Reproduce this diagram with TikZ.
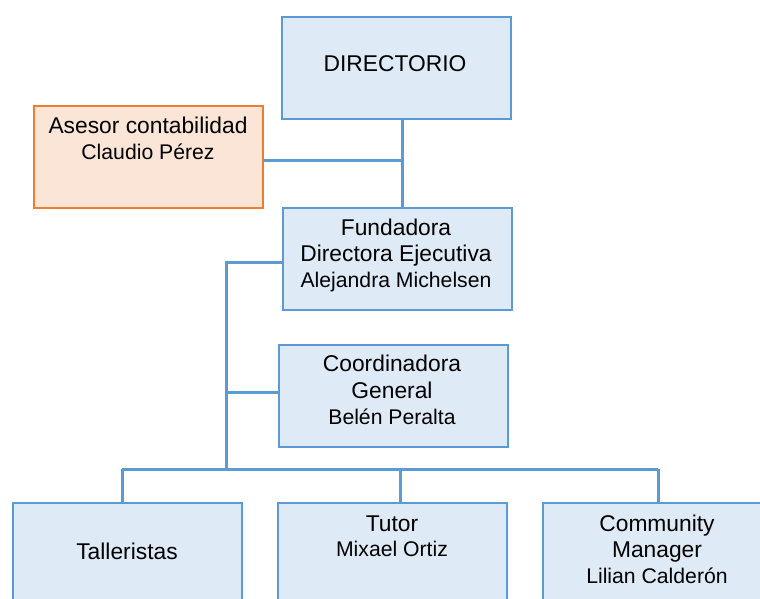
\documentclass[tikz,border=0pt]{standalone}
\usepackage{fontspec}
\setmainfont{Liberation Sans}
\definecolor{boxblue}{HTML}{DEEBF7}
\definecolor{lineblue}{HTML}{5B9BD5}
\definecolor{boxorange}{HTML}{FBE5D6}
\definecolor{lineorange}{HTML}{ED7D31}
\tikzset{
  orgbox/.style={draw=lineblue, fill=boxblue, line width=2.2pt, minimum width=229pt, minimum height=102pt, inner sep=0pt, anchor=north west},
  advbox/.style={draw=lineorange, fill=boxorange, line width=2.2pt, minimum width=229pt, minimum height=102pt, inner sep=0pt, anchor=north west},
  conn/.style={draw=lineblue, line width=3pt},
  ttl/.style={font=\fontsize{22.8}{26}\selectfont, inner sep=0pt, anchor=base},
  nam/.style={font=\fontsize{21.2}{26}\selectfont, inner sep=0pt, anchor=base},
}
\begin{document}
\begin{tikzpicture}[x=1pt,y=-1pt]
\useasboundingbox (0,0) rectangle (760,599);
\clip (0,0) rectangle (760,599);
% boxes
\node[orgbox] (dir) at (281,16) {};
\node[advbox] (ases) at (33,105) {};
\node[orgbox] (fund) at (282,207) {};
\node[orgbox] (coord) at (278,344) {};
\node[orgbox] (tall) at (12,502) {};
\node[orgbox] (tutor) at (277,502) {};
\node[orgbox] (cm) at (542,502) {};
% texts
\node[ttl] (tdir) at (395,72) {DIRECTORIO};
\node[ttl] (tases1) at (148,133) {Asesor contabilidad};
\node[nam] (tases2) at (148,159) {Claudio Pérez};
\node[ttl] (tfund1) at (396,235) {Fundadora};
\node[ttl] (tfund2) at (396,261) {Directora Ejecutiva};
\node[nam] (tfund3) at (396,287) {Alejandra Michelsen};
\node[ttl] (tcoord1) at (392,371) {Coordinadora};
\node[ttl] (tcoord2) at (392,398) {General};
\node[nam] (tcoord3) at (392,424) {Belén Peralta};
\node[ttl] (ttall) at (127,559) {Talleristas};
\node[ttl] (ttut1) at (392,531) {Tutor};
\node[nam] (ttut2) at (392,556) {Mixael Ortiz};
\node[ttl] (tcm1) at (657,531) {Community};
\node[ttl] (tcm2) at (657,557) {Manager};
\node[nam] (tcm3) at (657,583) {Lilian Calderón};
% junctions
\coordinate (j1) at (402,160);
\coordinate (t1) at (226,262);
\coordinate (t3) at (226,392);
\coordinate (t2) at (226,469);
\coordinate (b1) at (122,469);
\coordinate (b2) at (400,469);
\coordinate (b3) at (658,469);
% connectors
\draw[conn] (dir.south -| j1) -- (fund.north -| j1);
\draw[conn] (ases.east |- j1) -- (j1);
\draw[conn] (fund.west |- t1) -- (t1) -- (t2);
\draw[conn] (t3) -- (coord.west |- t3);
\draw[conn] (b1) -- (b3);
\draw[conn] (b1) -- (tall.north -| b1);
\draw[conn] (b2) -- (tutor.north -| b2);
\draw[conn] (b3) -- (cm.north -| b3);
\end{tikzpicture}
\end{document}
